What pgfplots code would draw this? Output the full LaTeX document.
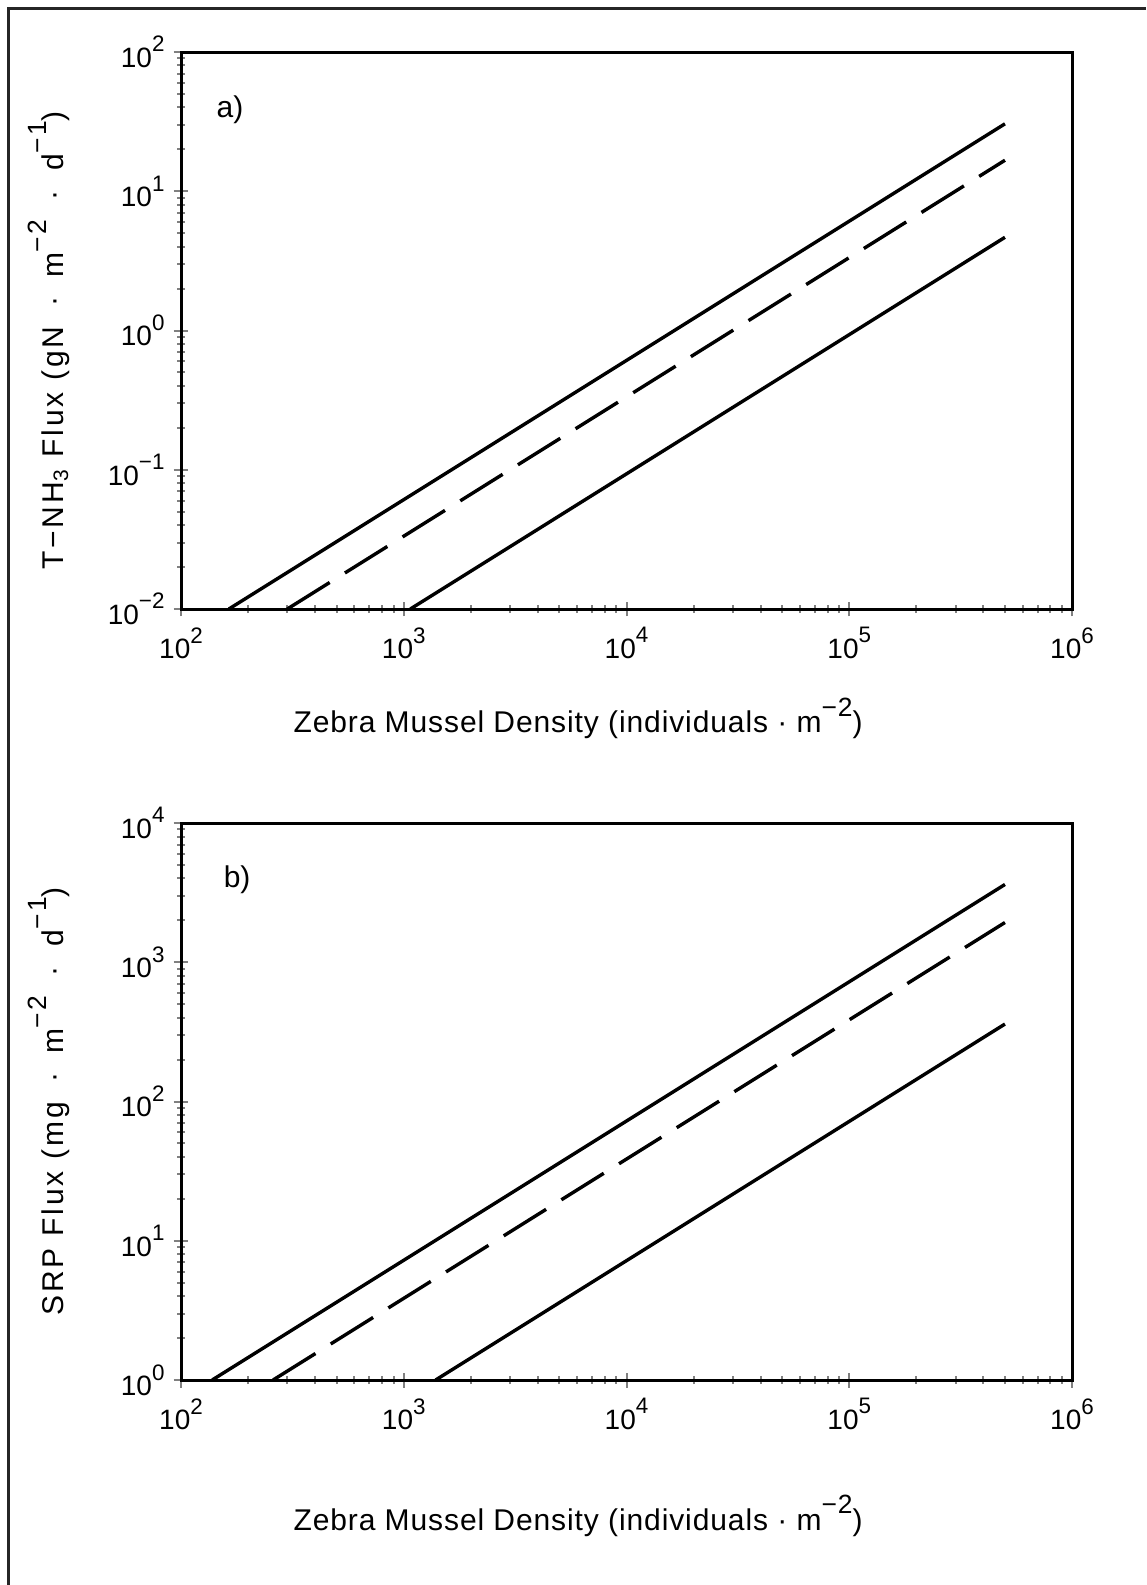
\documentclass[border=0pt]{standalone}
\usepackage{fontspec}
\setmainfont{Liberation Sans}
\newfontfamily\xlbl{Liberation Sans}[LetterSpace=3]
\newfontfamily\ylbl{Liberation Sans}[LetterSpace=10]
\usepackage{pgfplots}
\pgfplotsset{compat=1.18}
% raised exponent as in the plotter lettering
\newcommand{\sps}[1]{\raisebox{0.55em}{\scalebox{0.8}{#1}}}
\newcommand{\lsps}[1]{\raisebox{0.55em}{\scalebox{0.88}{#1}}}
\newcommand{\dotsep}{\hspace{0.65em}·\hspace{0.65em}}

\begin{document}
\begin{tikzpicture}
\useasboundingbox (0,0) rectangle (573pt,-792.5pt);
% outer frame (left and top edges)
\draw[line width=1.5pt, black!85] (4pt,-792.5pt) -- (4pt,-4pt) -- (573pt,-4pt);

% ----- panel a -----
\begin{axis}[
    xmode=log, ymode=log,
    scale only axis,
    width=445.5pt, height=278.5pt,
    at={(90.5pt,-304.5pt)}, anchor=south west,
    xmin=1e2, xmax=1e6,
    ymin=1e-2, ymax=1e2,
    xtick={1e2,1e3,1e4,1e5,1e6},
    xticklabels={10\sps{2},10\sps{3},10\sps{4},10\sps{5},10\sps{6}},
    ytick={1e-2,1e-1,1e0,1e1,1e2},
    yticklabels={10\sps{−2},10\sps{−1},10\sps{0},10\sps{1},10\sps{2}},
    tick pos=left,
    tick align=center,
    major tick length=7.5pt,
    minor tick length=4pt,
    axis line style={line width=1.5pt},
    major tick style={line width=1pt},
    minor tick style={line width=1pt},
    tick label style={font=\fontsize{14}{16}\selectfont},
    xticklabel style={yshift=-2pt},
    yticklabel style={xshift=-1pt},
    xlabel style={font=\xlbl\fontsize{15}{17}\selectfont},
    ylabel style={font=\ylbl\fontsize{15}{17}\selectfont},
    xlabel={Zebra Mussel Density (individuals~·~m\lsps{−2})},
    xlabel style={at={(axis description cs:0.4456,-0.196)}, anchor=center},
    ylabel={T−NH\textsubscript{3} Flux (gN\dotsep m\lsps{−2}\dotsep d\lsps{−1})},
    ylabel style={at={(axis description cs:-0.148,0.482)}, anchor=center},
    clip=false,
]
\addplot[black, line width=1.7pt] coordinates {(164,0.01) (5e5,30.5)};
\addplot[black, line width=1.7pt, dash pattern=on 25pt off 9pt] coordinates {(300,0.01) (5e5,16.7)};
\addplot[black, line width=1.7pt] coordinates {(1070,0.01) (5e5,4.67)};
\node[font=\fontsize{15}{17}\selectfont] at (axis description cs:0.055,0.896) {a)};
\end{axis}

% ----- panel b -----
\begin{axis}[
    xmode=log, ymode=log,
    scale only axis,
    width=445.5pt, height=278.5pt,
    at={(90.5pt,-690pt)}, anchor=south west,
    xmin=1e2, xmax=1e6,
    ymin=1e0, ymax=1e4,
    xtick={1e2,1e3,1e4,1e5,1e6},
    xticklabels={10\sps{2},10\sps{3},10\sps{4},10\sps{5},10\sps{6}},
    ytick={1e0,1e1,1e2,1e3,1e4},
    yticklabels={10\sps{0},10\sps{1},10\sps{2},10\sps{3},10\sps{4}},
    tick pos=left,
    tick align=center,
    major tick length=7.5pt,
    minor tick length=4pt,
    axis line style={line width=1.5pt},
    major tick style={line width=1pt},
    minor tick style={line width=1pt},
    tick label style={font=\fontsize{14}{16}\selectfont},
    xticklabel style={yshift=-2pt},
    yticklabel style={xshift=-1pt},
    xlabel style={font=\xlbl\fontsize{15}{17}\selectfont},
    ylabel style={font=\ylbl\fontsize{15}{17}\selectfont},
    xlabel={Zebra Mussel Density (individuals~·~m\lsps{−2})},
    xlabel style={at={(axis description cs:0.4456,-0.244)}, anchor=center},
    ylabel={SRP Flux (mg\dotsep m\lsps{−2}\dotsep d\lsps{−1})},
    ylabel style={at={(axis description cs:-0.148,0.5)}, anchor=center},
    clip=false,
]
\addplot[black, line width=1.7pt] coordinates {(138,1) (5e5,3620)};
\addplot[black, line width=1.7pt, dash pattern=on 25pt off 9pt] coordinates {(259,1) (5e5,1930)};
\addplot[black, line width=1.7pt] coordinates {(1390,1) (5e5,360)};
\node[font=\fontsize{15}{17}\selectfont] at (axis description cs:0.063,0.898) {b)};
\end{axis}
\end{tikzpicture}
\end{document}
